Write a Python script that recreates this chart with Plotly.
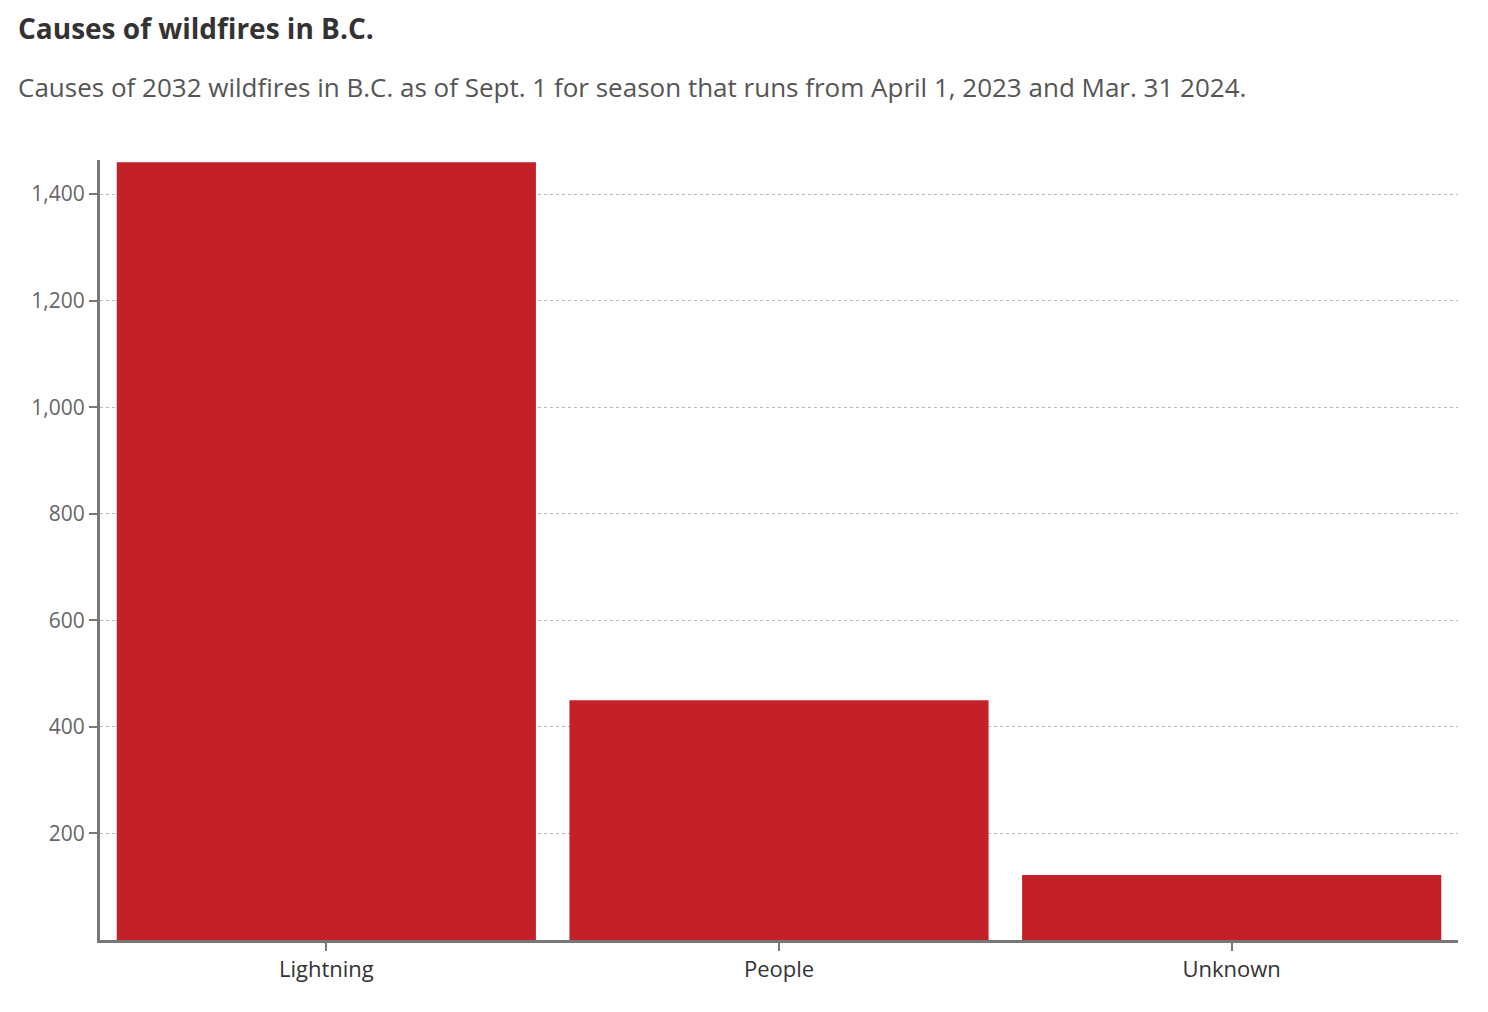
import plotly.graph_objects as go

causes = ["Lightning", "People", "Unknown"]
fires = [1460, 450, 122]
yticks = [200, 400, 600, 800, 1000, 1200, 1400]
yticklabels = ["200", "400", "600", "800", "1,000", "1,200", "1,400"]

fig = go.Figure(go.Bar(x=causes, y=fires, marker_color="#c4202a", marker_line_width=0))
fig.update_layout(
    width=1488, height=1012,
    margin=dict(l=92, r=38, t=152, b=80),
    paper_bgcolor="white", plot_bgcolor="white",
    bargap=0.074,
    font=dict(family="Open Sans, Lato, sans-serif", size=20, color="#555"),
    showlegend=False,
)
fig.add_annotation(text="<b>Causes of wildfires in B.C.</b>", xref="paper", yref="paper",
                   x=-0.062, y=1.169, xanchor="left", yanchor="middle", showarrow=False,
                   font=dict(size=28, color="#333"))
fig.add_annotation(text="Causes of 2032 wildfires in B.C. as of Sept. 1 for season that runs from April 1, 2023 and Mar. 31 2024.",
                   xref="paper", yref="paper", x=-0.062, y=1.093, xanchor="left", yanchor="middle",
                   showarrow=False, font=dict(size=26, color="#555"))
fig.update_xaxes(showline=True, linecolor="#777", linewidth=3, ticks="outside",
                 ticklen=8, tickwidth=2, tickcolor="#777", tickfont=dict(size=22, color="#333"))
fig.update_yaxes(range=[0, 1464], tickvals=yticks, ticktext=yticklabels, showline=True,
                 linecolor="#777", linewidth=3, ticks="outside", ticklen=8, tickwidth=2,
                 tickcolor="#777", showgrid=True, gridcolor="#bbb", griddash="dot",
                 gridwidth=1, tickfont=dict(size=21, color="#666"))
fig.write_html("out.html")
